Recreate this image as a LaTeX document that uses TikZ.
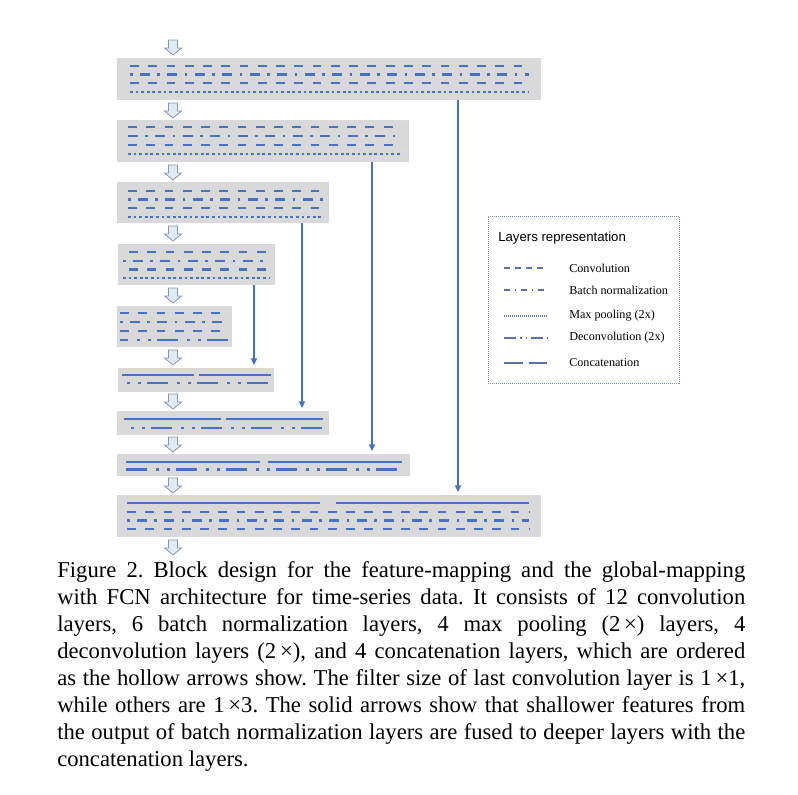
\documentclass[tikz,border=0pt]{standalone}
\usepackage{fontspec}
\setmainfont{Liberation Serif}
\newfontfamily\legsans{Liberation Sans}
\usetikzlibrary{arrows.meta,calc,fit}
\definecolor{rowblue}{RGB}{68,114,196}
\definecolor{blockgray}{RGB}{217,217,217}
\definecolor{hfill}{RGB}{222,235,247}
\definecolor{hdraw}{RGB}{132,151,176}
\definecolor{legblue}{RGB}{84,114,168}
\definecolor{legframe}{RGB}{127,147,176}
\frenchspacing
\begin{document}
\begin{tikzpicture}[x=0.75pt,y=-0.75pt,
  block/.style={fill=blockgray, draw=none, inner sep=0pt},
  rowline/.style={rowblue, line width=2.2pt},
  conv/.style={rowline, dash pattern=on 6.6pt off 7.1pt},
  bn/.style={rowline, dash pattern=on 7.5pt off 5.6pt on 1.9pt off 5.6pt},
  pool/.style={rowline, dash pattern=on 2.1pt off 2.1pt},
  deconv/.style={rowline, dash pattern=on 15.75pt off 6.75pt on 1.9pt off 6.4pt on 1.9pt off 4.8pt},
  concat/.style={rowline},
  conn/.style={rowblue, line width=1.1pt, -{Triangle[length=5pt,width=4.5pt]}, shorten >=2pt},
  hollow/.style={fill=hfill, draw=hdraw, line width=0.6pt, line join=miter},
  legline/.style={legblue, line width=1.5pt},
  legtext/.style={anchor=west, inner sep=0pt, font=\fontsize{9.1}{11}\selectfont},
  captext/.style={anchor=base west, inner sep=0pt, font=\fontsize{17}{20}\selectfont},
]
\useasboundingbox (0,0) rectangle (798,794);

% ---------- blocks ----------
\node[block, fit={(117,58) (541,100)}] (b1) {};
\node[block, fit={(117,120) (409,162)}] (b2) {};
\node[block, fit={(117,182) (329,223)}] (b3) {};
\node[block, fit={(118,244) (275,285)}] (b4) {};
\node[block, fit={(117,306) (232,347)}] (b5) {};
\node[block, fit={(118,368) (274,392)}] (b6) {};
\node[block, fit={(117,411) (329,435)}] (b7) {};
\node[block, fit={(117,454) (410,476)}] (b8) {};
\node[block, fit={(117,495) (541,537)}] (b9) {};

% block 1
\draw[conv] (130,66) -- (529,66);
\draw[bn, dash phase=13.1pt] (130,74.5) -- (529,74.5);
\draw[conv] (130,83) -- (529,83);
\draw[pool] (130,92) -- (529,92);
% block 2
\draw[conv] (128,127) -- (402,127);
\draw[bn] (128,136) -- (402,136);
\draw[conv] (128,145) -- (402,145);
\draw[pool] (128,154) -- (402,154);
% block 3
\draw[conv] (128,191) -- (323,191);
\draw[bn, dash phase=13.1pt] (128,199.5) -- (323,199.5);
\draw[conv] (128,208) -- (323,208);
\draw[pool] (128,217) -- (323,217);
% block 4
\draw[conv] (129,252) -- (269,252);
\draw[bn, dash phase=13.1pt] (123,261) -- (269,261);
\draw[conv] (129,269.5) -- (269,269.5);
\draw[pool] (123,278) -- (269,278);
% block 5
\draw[conv] (120,313) -- (229,313);
\draw[bn, dash phase=13.1pt] (120,322) -- (229,322);
\draw[conv] (120,331) -- (229,331);
\draw[deconv, dash phase=9.75pt] (120,340) -- (229,340);
% block 6
\draw[concat] (122,375) -- (194,375);
\draw[concat] (199,375) -- (271,375);
\draw[deconv, dash phase=18.75pt] (122,383) -- (271,383);
% block 7
\draw[concat] (124,419) -- (221,419);
\draw[concat] (226,419) -- (323,419);
\draw[deconv, dash phase=17.25pt] (124,428) -- (323,428);
% block 8
\draw[concat] (126,462) -- (260,462);
\draw[concat] (268,462) -- (402,462);
\draw[deconv] (126,469.5) -- (402,469.5);
% block 9
\draw[concat] (127,503) -- (320,503);
\draw[concat] (336,503) -- (529,503);
\draw[conv] (127,512) -- (529,512);
\draw[bn, dash phase=13.1pt] (127,520.5) -- (529,520.5);
\draw[conv] (127,529) -- (529,529);

% ---------- hollow arrows ----------
\foreach \t in {40,103,165,226,288,350,394,437,478,540} {
  \filldraw[hollow] (168.5,\t) -- (177.5,\t) -- (177.5,{\t+8}) -- (181.5,{\t+8})
    -- (173,{\t+15}) -- (164.5,{\t+8}) -- (168.5,{\t+8}) -- cycle;
}

% ---------- skip connections ----------
\coordinate (k1) at (458,0);
\coordinate (k2) at (372,0);
\coordinate (k3) at (302,0);
\coordinate (k4) at (254,0);
\draw[conn] (b1.south -| k1) -- (b9.north -| k1);
\draw[conn] (b2.south -| k2) -- (b8.north -| k2);
\draw[conn] (b3.south -| k3) -- (b7.north -| k3);
\draw[conn] (b4.south -| k4) -- (b6.north -| k4);

% ---------- legend ----------
\node[fit={(488,216) (679,383)}, inner sep=0pt, draw=legframe, line width=0.6pt,
  dash pattern=on 0.75pt off 0.75pt] (leg) {};
\node[anchor=west, inner sep=0pt, font=\legsans\fontsize{9.9}{12}\selectfont] (lt) at (498,238) {Layers representation};
\draw[legline, dash pattern=on 4.5pt off 3.75pt] (504,268) -- (548,268);
\draw[legline, dash pattern=on 4.5pt off 3.5pt on 1.2pt off 3.5pt] (504,290) -- (548,290);
\draw[legblue, line width=1pt, dash pattern=on 0.75pt off 0.75pt] (504,316) -- (548,316);
\draw[legline, dash pattern=on 9pt off 3pt on 1.2pt off 3pt on 1.2pt off 3pt] (504,338) -- (548,338);
\draw[legline, dash pattern=on 14pt off 4.5pt] (504,363) -- (548,363);
\node[legtext] (l1) at (569,268) {Convolution};
\node[legtext] (l2) at (569,290) {Batch normalization};
\node[legtext] (l3) at (569,316) {Max pooling (2x)};
\node[legtext] (l4) at (569,338) {Deconvolution (2x)};
\node[legtext] (l5) at (569,363) {Concatenation};

% ---------- caption ----------
\node[captext] (c1) at (57,577) {\makebox[516pt][s]{Figure 2. Block design for the feature-mapping and the global-mapping}};
\node[captext] (c2) at (57,604) {\makebox[516pt][s]{with FCN architecture for time-series data. It consists of 12 convolution}};
\node[captext] (c3) at (57,631) {\makebox[516pt][s]{layers, 6 batch normalization layers, 4 max pooling (2\,×) layers, 4}};
\node[captext] (c4) at (57,658) {\makebox[516pt][s]{deconvolution layers (2\,×), and 4 concatenation layers, which are ordered}};
\node[captext] (c5) at (57,685) {\makebox[516pt][s]{as the hollow arrows show. The filter size of last convolution layer is 1\,×1,}};
\node[captext] (c6) at (57,712) {\makebox[516pt][s]{while others are 1\,×3. The solid arrows show that shallower features from}};
\node[captext] (c7) at (57,739) {\makebox[516pt][s]{the output of batch normalization layers are fused to deeper layers with the}};
\node[captext] (c8) at (57,766) {concatenation layers.};
\end{tikzpicture}
\end{document}
